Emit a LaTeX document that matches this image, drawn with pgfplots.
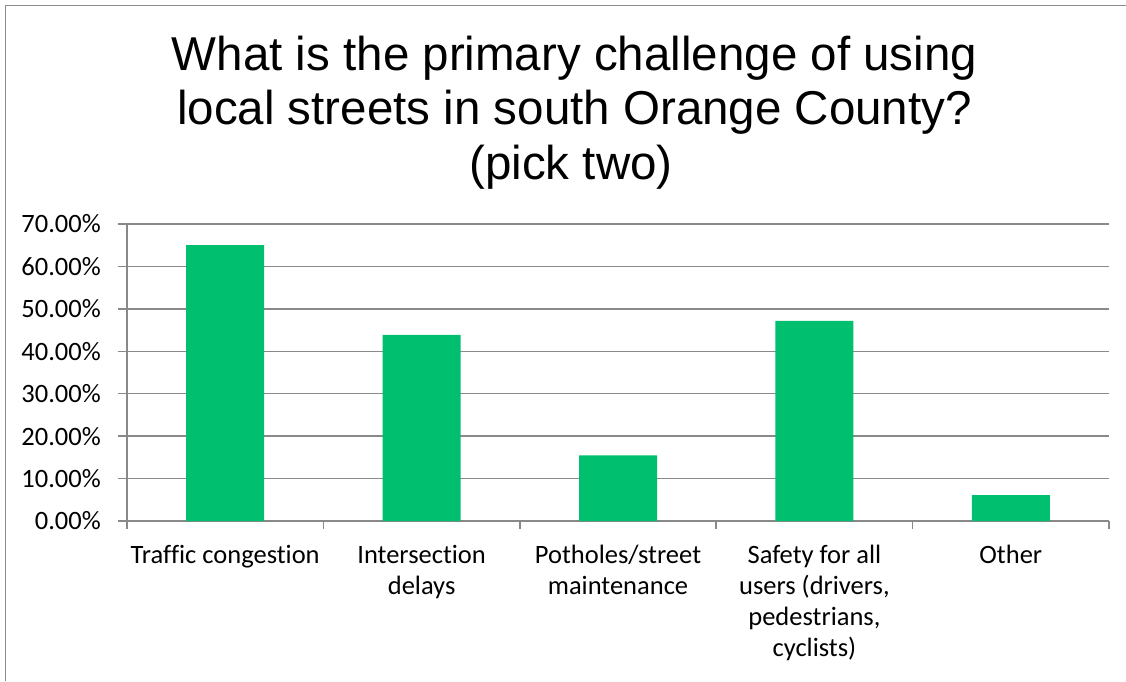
\documentclass[border=0pt]{standalone}
\usepackage{pgfplots}
\pgfplotsset{compat=1.18}
\usepackage{fontspec}
\setmainfont{Carlito}[Ligatures=NoCommon]
\newfontfamily\arialfont{Liberation Sans}
\definecolor{bargreen}{HTML}{00BF6F}
\definecolor{gridgray}{HTML}{898989}
\definecolor{framegray}{HTML}{8C8C8C}
\begin{document}
\begin{tikzpicture}[x=1pt,y=-1pt]
\path[use as bounding box] (0,0) rectangle (1126,681);
\draw[framegray, line width=1.5pt] (5.5,681) -- (5.5,5.5) -- (1126,5.5);
\node[anchor=base, inner sep=0pt, font=\arialfont\fontsize{47.5}{54}\selectfont] at (574.5,70) {What is the primary challenge of using};
\node[anchor=base, inner sep=0pt, font=\arialfont\fontsize{47.5}{54}\selectfont] at (574.5,124.5) {local streets in south Orange County?};
\node[anchor=base, inner sep=0pt, font=\arialfont\fontsize{47.5}{54}\selectfont] at (571,179) {(pick two)};
\begin{axis}[
  at={(127pt,-521pt)}, anchor=south west,
  scale only axis, width=982pt, height=297pt,
  xmin=-0.5, xmax=4.5, ymin=0, ymax=70,
  axis x line*=bottom, axis y line*=left,
  axis line style={gridgray, line width=1.5pt},
  ymajorgrids, grid style={gridgray, line width=1.5pt},
  ytick={0,10,20,30,40,50,60,70},
  yticklabels={0.00\%,10.00\%,20.00\%,30.00\%,40.00\%,50.00\%,60.00\%,70.00\%},
  yticklabel style={font=\fontsize{26.5}{30}\selectfont, anchor=east, inner sep=0pt, xshift=-17pt},
  ytick style={gridgray, line width=1.5pt},
  tick align=outside, major tick length=9pt,
  xtick={0,1,2,3,4},
  xticklabels={{Traffic congestion}, {Intersection\\delays}, {Potholes/street\\maintenance}, {Safety for all\\users (drivers,\\pedestrians,\\cyclists)}, {Other}},
  xticklabel style={font=\fontsize{26.5}{31}\selectfont, align=center, anchor=north, inner sep=0pt, yshift=-15pt},
  xtick style={draw=none},
  extra x ticks={-0.5,0.5,1.5,2.5,3.5,4.5},
  extra x tick labels={},
  extra x tick style={grid=none, xtick style={draw=gridgray, line width=1.5pt}, major tick length=8pt},
  clip=false,
]
\addplot[ybar, bar width=78pt, fill=bargreen, draw=none] coordinates {
  (0,65.05) (1,43.85) (2,15.5) (3,47.2) (4,6.1)
};
\end{axis}
\end{tikzpicture}
\end{document}
